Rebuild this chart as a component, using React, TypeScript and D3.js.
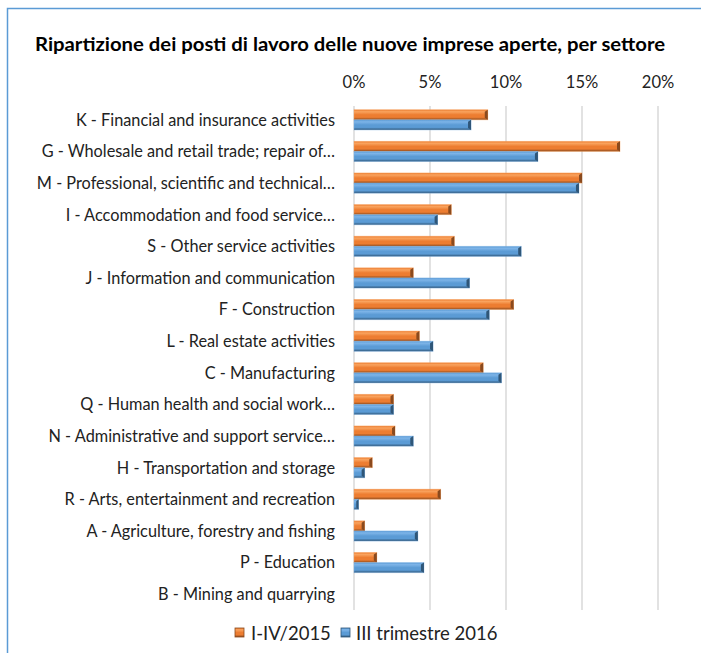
import * as d3 from "d3";

const categories = [
  "K - Financial and insurance activities",
  "G - Wholesale and retail trade; repair of…",
  "M - Professional, scientific and technical…",
  "I - Accommodation and food service…",
  "S - Other service activities",
  "J - Information and communication",
  "F - Construction",
  "L - Real estate activities",
  "C - Manufacturing",
  "Q - Human health and social work…",
  "N - Administrative and support service…",
  "H - Transportation and storage",
  "R - Arts, entertainment and recreation",
  "A - Agriculture, forestry and fishing",
  "P - Education",
  "B - Mining and quarrying",
];

const seriesNames = ["I-IV/2015", "III trimestre 2016"];

const values2015 = [8.8, 17.5, 15.0, 6.4, 6.6, 3.9, 10.5, 4.3, 8.5, 2.6, 2.7, 1.2, 5.7, 0.7, 1.5, 0];
const values2016 = [7.7, 12.1, 14.8, 5.5, 11.0, 7.6, 8.9, 5.2, 9.7, 2.6, 3.9, 0.7, 0.3, 4.2, 4.6, 0];

const ticks = [0, 5, 10, 15, 20];

const width = 701;
const height = 653;
const margin = { top: 104, bottom: 43, left: 354, right: 43 };

const colors = [
  { light: "#F9A35E", mid: "#ED7D31", dark: "#8A4A1E" },
  { light: "#7DB4E8", mid: "#5B9BD5", dark: "#2F5678" },
];

const font = "Lato, 'Noto Sans', sans-serif";

const App = () => {
  const x = d3
    .scaleLinear()
    .domain([0, 20])
    .range([margin.left, width - margin.right]);

  const y = d3
    .scaleBand()
    .domain(categories)
    .range([margin.top, height - margin.bottom])
    .paddingInner(0.36)
    .paddingOuter(0.18);

  const inner = d3
    .scaleBand()
    .domain(seriesNames)
    .range([0, y.bandwidth()]);

  const rows = categories.map((c, i) => ({ cat: c, vals: [values2015[i], values2016[i]] }));

  return (
    <svg width={width} height={height} style={{ position: "absolute", left: 0, top: 0 }}>
      <defs>
        {colors.map((c, i) => (
          <linearGradient key={i} id={`grad-${i}`} x1="0" y1="0" x2="0" y2="1">
            <stop offset="0" stopColor={c.mid} />
            <stop offset="0.2" stopColor={c.light} />
            <stop offset="0.5" stopColor={c.mid} />
            <stop offset="0.75" stopColor={c.mid} />
            <stop offset="1" stopColor={c.dark} />
          </linearGradient>
        ))}
      </defs>
      <rect x={0} y={0} width={width} height={height} fill="#fff" />
      {/* chart border */}
      <path d={`M7.5,${height} V8.5 H${width}`} fill="none" stroke="#5B9BD5" strokeWidth={1.5} />

      <text
        x={350}
        y={51}
        textAnchor="middle"
        fontFamily={font}
        fontWeight="bold"
        fontSize={18}
        textLength={630}
        lengthAdjust="spacingAndGlyphs"
        fill="#000"
      >
        Ripartizione dei posti di lavoro delle nuove imprese aperte, per settore
      </text>

      <g className="grid">
        {ticks.map((t) => (
          <g key={t}>
            <line x1={x(t)} x2={x(t)} y1={margin.top + 2} y2={height - margin.bottom} stroke="#D9D9D9" strokeWidth={1.5} />
            <text x={x(t)} y={88} textAnchor="middle" fontFamily={font} fontSize={16.5} fill="#222">
              {t}%
            </text>
          </g>
        ))}
      </g>

      <g className="bars">
        {rows.map((r) => (
          <g key={r.cat} transform={`translate(0,${y(r.cat)})`}>
            <text
              x={335}
              y={inner.bandwidth()}
              dy="0.36em"
              textAnchor="end"
              fontFamily={font}
              fontSize={16.3}
              fill="#222"
            >
              {r.cat}
            </text>
            {r.vals.map((v, j) => {
              const w = x(v) - x(0);
              if (w <= 0) return null;
              const by = inner(seriesNames[j]);
              const bh = inner.bandwidth();
              const cap = Math.min(3, w / 2);
              return (
                <g key={j}>
                  <rect x={x(0)} y={by} width={w} height={bh} fill={`url(#grad-${j})`} stroke={colors[j].light} strokeOpacity={0.5} strokeWidth={0.8} />
                  <path
                    d={`M${x(v) - cap},${by + 2} L${x(v)},${by} V${by + bh} L${x(v) - cap},${by + bh - 2} Z`}
                    fill={colors[j].dark}
                  />
                </g>
              );
            })}
          </g>
        ))}
      </g>

      <g className="legend" fontFamily={font} fontSize={18.5} fill="#222">
        <rect x={235} y={628} width={9} height={9} fill="url(#grad-0)" stroke={colors[0].dark} strokeWidth={0.8} />
        <text x={251} y={640}>{seriesNames[0]}</text>
        <rect x={341} y={628} width={9} height={9} fill="url(#grad-1)" stroke={colors[1].dark} strokeWidth={0.8} />
        <text x={356} y={640}>{seriesNames[1]}</text>
      </g>
    </svg>
  );
};

export default App;
